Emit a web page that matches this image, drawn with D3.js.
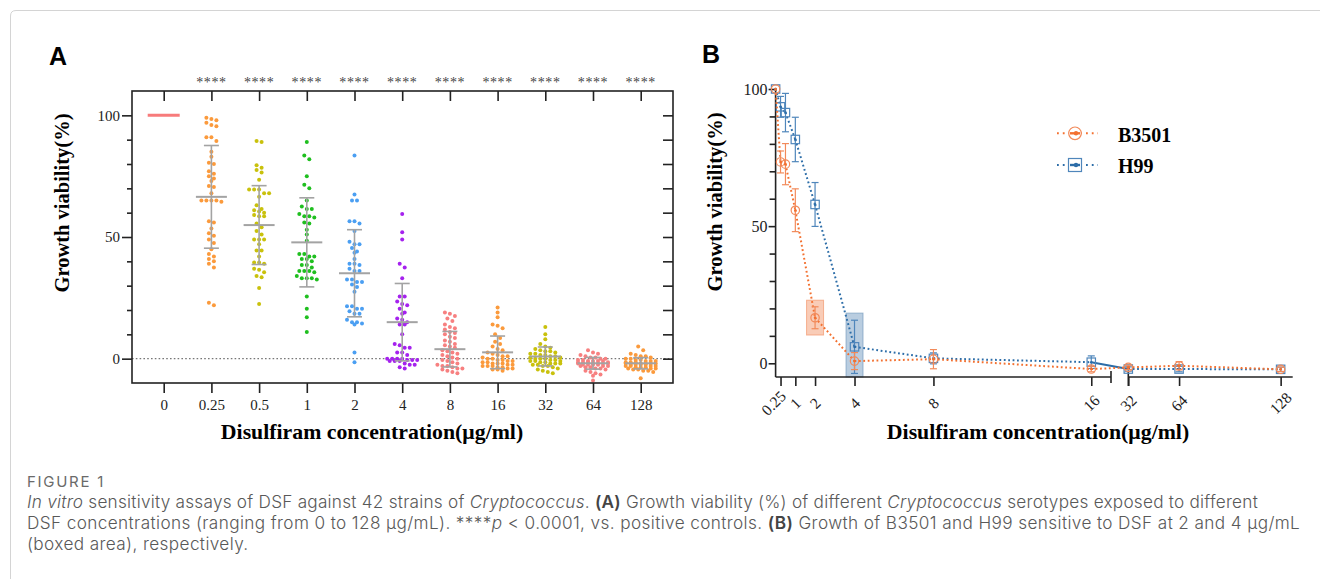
<!DOCTYPE html>
<html><head><meta charset="utf-8">
<script src="https://cdn.jsdelivr.net/npm/d3@7"></script>
<style>body{margin:0;background:#fff}svg{display:block}</style>
</head><body><svg id="chart" width="1320" height="579"></svg>
<script>
// ---------------- Panel A data ----------------
const catsA = ["0","0.25","0.5","1","2","4","8","16","32","64","128"];
const sigA  = ["","****","****","****","****","****","****","****","****","****","****"];
const colorsA = ["#f77b7b","#fb9a3c","#c9c10c","#1fbf1f","#4b9ff2","#a522ee","#f78080","#fb9a3c","#c9c10c","#f78080","#fb9a3c"];
const meansA = [100, 66.5, 54.9, 47.8, 35.1, 15.0, 3.9, 2.6, 0.9, -1.9, -1.9];
const sdsA   = [0, 21.1, 16.2, 18.3, 17.9, 15.9, 7.3, 6.7, 3.9, 2.4, 2.3];
const vals0    = [];
const vals025  = [99,98.5,98,97,96,95.5,91,91,89.5,85,83,80,80.5,77,76,75,74,73,71,70.5,68,65,65,65,65,64.5,56.5,56,53.5,51.5,50.5,49,47.5,45,43,42,41,40,39,37.5,23,22];
const vals05   = [89.5,89,79.5,78.5,77.5,76.5,73.5,69.5,69.5,69.5,68,68,66.5,63,61.5,61,60.5,60,59,58.5,58.5,55.5,54,52.5,51,49,49,49,47,44.5,44.5,42,39.5,39.5,39,37,36.5,35.5,34,33.5,29,22.5];
const vals1    = [89,83.5,82,75,71.5,70,65,62.5,61.5,61.5,59.5,58.5,58.5,58,56,55.5,53,51,48.5,43,43,42,42,41,41,40,38.5,38.5,37.5,36,36,36,35.5,34,33,33,33,32.5,25.5,20.5,17,11];
const vals2    = [83.5,67.5,65,65,56.5,56.5,55.5,52.5,48,47,47,45.5,44,43.5,41,39,39,38.5,37,36,36,32.5,32.5,31.5,31.5,30.5,29.5,27.5,21.5,21.5,20.5,20.5,19.5,18.5,18.5,16,15,15,14.5,14,2.5,-1.5];
const vals4    = [59.5,52,49,39,37.5,33,25.5,25.5,23.5,22.5,22,20.5,19,18.5,16.5,16,15,14,14,10,6,5.5,4.5,4.5,2.5,2.5,1.5,0,0,0,0,-0.5,-0.5,-0.5,-1,-1,-1,-2.5,-2.5,-2,-3.5,-4];
const vals8    = [19,18.5,17.5,16.5,15.5,14,13,12.5,12,11,10.5,10,9,8.5,7.5,7,6,5.5,5,4.5,3.5,3,2.5,2,1.5,1,0.5,0,-0.5,-1,-1.5,-2,-2.5,-3,-3,-3.5,-4,-4,-4.5,-5,-5.5,-6];
const vals16   = [21,19,17,14,13.5,12.5,10,8.5,7,6,5,4,3.5,2.5,2,1.5,1,1,0.5,0,0,-0.5,-0.5,-1,-1,-1.5,-1.5,-2,-2,-2,-2.5,-2.5,-3,-3,-3,-3.5,-3.5,-4,-4,-4.5,-4.5,-5];
const vals32   = [13,10,8,6,5,4.5,4,3.5,3,3,2.5,2,2,1.5,1.5,1,1,0.5,0.5,0,0,0,-0.5,-0.5,-1,-1,-1,-1.5,-1.5,-2,-2,-2,-2.5,-2.5,-3,-3,-3.5,-4,-4.5,-5,-5.5,-6];
const vals64   = [3.5,2.5,2,1.5,1,0.5,0.5,0,0,-0.5,-0.5,-1,-1,-1,-1,-1.5,-1.5,-1.5,-1.5,-2,-2,-2,-2,-2,-2.5,-2.5,-2.5,-2.5,-3,-3,-3,-3.5,-3.5,-4,-4,-4.5,-5,-5.5,-6,-6.5,-7,-9];
const vals128  = [5,3.5,2,1.5,1,1,0.5,0,0,-0.5,-0.5,-1,-1,-1,-1.5,-1.5,-1.5,-2,-2,-2,-2,-2,-2.5,-2.5,-2.5,-2.5,-3,-3,-3,-3,-3.5,-3.5,-3.5,-4,-4,-4,-4.5,-4.5,-5,-5,-5.5,-8];
const valsA = [vals0,vals025,vals05,vals1,vals2,vals4,vals8,vals16,vals32,vals64,vals128];
const yTicksA = [0,50,100];
const yMinorA = [10,20,30,40,60,70,80,90];

// ---------------- Panel B data ----------------
const concB = [0,0.25,0.5,1,2,4,8,16,32,64,128];
const b3501 = [100,73.4,72.6,55.8,16.6,0.8,1.5,-2.1,-1.5,-0.9,-2.2];
const b3501Err = [0,4,7.5,7.8,4,3.1,3.5,1,0.8,1.5,0.8];
const h99 = [100,93.5,91.4,81.6,57.9,6.0,1.8,0.4,-2.1,-2.1,-2.2];
const h99Err = [0,3.8,7,8.1,8,9.7,2,2.3,0.8,1,0.8];
const xTicksB1 = [0.25,1,2,4,8,16];
const xTicksB2 = [32,64,128];
const yTicksB = [0,50,100];
const yMinorB = [10,20,30,40,60,70,80,90];
const boxesB = [{conc:2, lo:10.3, hi:23, fill:"#f4a27c", stroke:"#f08a5c"},
                {conc:4, lo:-5, hi:18.3, fill:"#7fa4c6", stroke:"#6b93b8"}];

const svg = d3.select("#chart");
svg.append("rect").attr("width",1320).attr("height",579).attr("fill","#fff");
svg.append("path").attr("d","M10.5,579 L10.5,16 Q10.5,10.5 16,10.5 L1320,10.5")
   .attr("fill","none").attr("stroke","#d4d4d4").attr("stroke-width",1);

const serif = "'Liberation Serif','Times New Roman',serif";
const sans = "'Liberation Sans',Arial,sans-serif";

// ================= Panel A =================
const L=132, R=673, T=91, B=383;
const xA = d3.scalePoint().domain(catsA).range([163.7,640.7]);
const yA = d3.scaleLinear().domain([-10,110]).range([B,T]);
const gA = svg.append("g");

gA.append("text").attr("x",49).attr("y",65).text("A")
  .attr("font-family",sans).attr("font-weight","bold").attr("font-size",25);

gA.append("line").attr("x1",L).attr("x2",R).attr("y1",yA(0)).attr("y2",yA(0))
  .attr("stroke","#777").attr("stroke-width",1.3).attr("stroke-dasharray","1.6,2.2");

function swarm(vals, cx, sc, step, sep, maxRow){
  const pts = vals.map(v=>({v, py:sc(v)})).sort((a,b)=>a.py-b.py);
  const rows=[]; let cur=null;
  pts.forEach(p=>{ if(!cur || p.py-cur.y0>sep || cur.pts.length>=maxRow){cur={y0:p.py,pts:[]};rows.push(cur);} cur.pts.push(p);});
  rows.forEach(r=>{const n=r.pts.length; r.pts.forEach((p,i)=>{p.px=cx+(i-(n-1)/2)*step;});});
  return pts;
}
catsA.forEach((c,i)=>{
  const pts = swarm(valsA[i], xA(c), yA, 5, 4.2, 7);
  gA.append("g").selectAll("circle").data(pts).join("circle")
    .attr("cx",d=>d.px).attr("cy",d=>d.py).attr("r",2).attr("fill",colorsA[i]);
});
const eb = gA.append("g").attr("stroke","#a3a3a3").attr("fill","none");
catsA.forEach((c,i)=>{
  const cx=xA(c), m=meansA[i], s=sdsA[i];
  if(s>0){
    eb.append("line").attr("x1",cx).attr("x2",cx).attr("y1",yA(m-s)).attr("y2",yA(m+s)).attr("stroke-width",1.6);
    [m-s,m+s].forEach(v=>eb.append("line").attr("x1",cx-7.5).attr("x2",cx+7.5).attr("y1",yA(v)).attr("y2",yA(v)).attr("stroke-width",1.6));
    eb.append("line").attr("x1",cx-15.5).attr("x2",cx+15.5).attr("y1",yA(m)).attr("y2",yA(m)).attr("stroke-width",2);
  } else {
    gA.append("line").attr("x1",cx-16).attr("x2",cx+16).attr("y1",yA(m)).attr("y2",yA(m))
      .attr("stroke",colorsA[i]).attr("stroke-width",3);
  }
});

gA.append("rect").attr("x",L).attr("y",T).attr("width",R-L).attr("height",B-T)
  .attr("fill","none").attr("stroke","#222").attr("stroke-width",1.6);

function styleAxis(g, fs){
  g.select(".domain").remove();
  g.selectAll(".tick line").attr("stroke","#222").attr("stroke-width",1.6);
  g.selectAll(".tick text").attr("font-family",serif).attr("font-size",fs).attr("fill","#222");
}
gA.append("g").attr("transform",`translate(${L},0)`)
  .call(d3.axisLeft(yA).tickValues(yTicksA).tickSize(10).tickPadding(2)).call(g=>styleAxis(g,15));
gA.append("g").attr("transform",`translate(${L},0)`)
  .call(d3.axisLeft(yA).tickValues(yMinorA).tickSize(5).tickFormat("")).call(g=>styleAxis(g,15));
gA.append("g").attr("transform",`translate(${R},0)`)
  .call(d3.axisLeft(yA).tickValues(yTicksA.concat(yMinorA)).tickSize(10).tickFormat("")).call(g=>styleAxis(g,15));
gA.append("g").attr("transform",`translate(0,${T})`)
  .call(d3.axisBottom(xA).tickSize(10).tickFormat("")).call(g=>styleAxis(g,15));
gA.append("g").attr("transform",`translate(0,${B})`)
  .call(d3.axisBottom(xA).tickSize(10).tickPadding(6)).call(g=>styleAxis(g,15));
gA.append("g").selectAll("text").data(catsA).join("text")
  .attr("x",d=>xA(d)).attr("y",T-4).attr("text-anchor","middle")
  .text((d,i)=>sigA[i]).attr("font-family",serif).attr("font-size",14).attr("fill","#444").attr("letter-spacing",0.6);
gA.append("text").attr("transform","translate(69,203) rotate(-90)").attr("text-anchor","middle")
  .text("Growth viability(%)").attr("font-family",serif).attr("font-weight","bold").attr("font-size",20.5);
gA.append("text").attr("x",372).attr("y",439).attr("text-anchor","middle")
  .text("Disulfiram concentration(μg/ml)").attr("font-family",serif).attr("font-weight","bold").attr("font-size",21.8);

// ================= Panel B =================
const gB = svg.append("g");
gB.append("text").attr("x",702).attr("y",63).text("B")
  .attr("font-family",sans).attr("font-weight","bold").attr("font-size",25);
const xB1 = d3.scaleLinear().domain([0,17]).range([775.6,1111]);
const xB2 = d3.scaleLinear().domain([32,135.6]).range([1128.3,1292.7]);
const xB = v => v<=17 ? xB1(v) : xB2(v);
const yB = d3.scaleLinear().domain([-5,100]).range([377,89]);
const orange="#f3702f", blue="#2c6da8", orangeM="#f28a5a", blueM="#4f86bb";

boxesB.forEach(b=>{
  gB.append("rect").attr("x",xB(b.conc)-8.5).attr("width",17)
    .attr("y",yB(b.hi)).attr("height",yB(b.lo)-yB(b.hi))
    .attr("fill",b.fill).attr("fill-opacity",0.55).attr("stroke",b.stroke).attr("stroke-opacity",0.6);
});

const axB = gB.append("g").attr("stroke","#222").attr("stroke-width",1.6);
axB.append("line").attr("x1",xB1.range()[0]).attr("x2",xB1.range()[0]).attr("y1",yB(100)).attr("y2",yB(-5));
axB.append("line").attr("x1",xB1.range()[0]).attr("x2",xB1.range()[1]).attr("y1",yB(-5)).attr("y2",yB(-5));
axB.append("line").attr("x1",xB2.range()[0]).attr("x2",xB2.range()[1]).attr("y1",yB(-5)).attr("y2",yB(-5));
axB.append("line").attr("x1",xB1.range()[1]).attr("x2",xB1.range()[1]).attr("y1",yB(-5)-6).attr("y2",yB(-5)+6);
axB.append("line").attr("x1",xB2.range()[0]).attr("x2",xB2.range()[0]).attr("y1",yB(-5)-6).attr("y2",yB(-5)+9);

gB.append("g").attr("transform",`translate(${xB1.range()[0]},0)`)
  .call(d3.axisLeft(yB).tickValues(yTicksB).tickSize(7).tickPadding(1)).call(g=>styleAxis(g,16));
gB.append("g").attr("transform",`translate(${xB1.range()[0]},0)`)
  .call(d3.axisLeft(yB).tickValues(yMinorB).tickSize(6).tickFormat("")).call(g=>styleAxis(g,16));
gB.append("g").attr("transform",`translate(0,${yB(-5)})`)
  .call(d3.axisBottom(xB1).tickValues(xTicksB1).tickSize(9).tickFormat("")).call(g=>styleAxis(g,16));
gB.append("g").attr("transform",`translate(0,${yB(-5)})`)
  .call(d3.axisBottom(xB2).tickValues(xTicksB2).tickSize(9).tickFormat("")).call(g=>styleAxis(g,16));
const xLabB = xTicksB1.map(v=>({v,x:xB1(v)})).concat(xTicksB2.map(v=>({v,x:xB2(v)})));
gB.append("g").selectAll("text").data(xLabB).join("text")
  .attr("transform",d=>`translate(${d.x + (d.v===0.25?-7:0)},403) rotate(-45)`)
  .attr("text-anchor","middle").attr("dominant-baseline","central")
  .text(d=>d.v).attr("font-family",serif).attr("font-size",15.5).attr("fill","#222");

function drawSeries(vals, errs, col, colM, shape, solidBreak){
  const pts = concB.map((c,i)=>({x:xB(c), y:yB(vals[i]), v:vals[i], e:errs[i], c}));
  const line = d3.line().x(d=>d.x).y(d=>d.y);
  for(let i=0;i<pts.length-1;i++){
    const solid = solidBreak && pts[i].c===16;
    gB.append("path").attr("d",line([pts[i],pts[i+1]])).attr("fill","none")
      .attr("stroke",col).attr("stroke-width",2).attr("stroke-dasharray",solid?null:"1.8,2.6");
  }
  const g = gB.append("g").attr("stroke",colM).attr("fill","none").attr("stroke-width",1.2);
  pts.forEach(p=>{
    if(p.e>0){
      g.append("line").attr("x1",p.x).attr("x2",p.x).attr("y1",yB(p.v-p.e)).attr("y2",yB(p.v+p.e));
      [p.v-p.e,p.v+p.e].forEach(v=>g.append("line").attr("x1",p.x-3.5).attr("x2",p.x+3.5).attr("y1",yB(v)).attr("y2",yB(v)));
    }
    if(shape==="circle") g.append("circle").attr("cx",p.x).attr("cy",p.y).attr("r",4.2);
    else g.append("rect").attr("x",p.x-4.2).attr("y",p.y-4.2).attr("width",8.4).attr("height",8.4);
    gB.append("circle").attr("cx",p.x).attr("cy",p.y).attr("r",1.3).attr("fill",col);
  });
}
drawSeries(h99, h99Err, blue, blueM, "square", true);
drawSeries(b3501, b3501Err, orange, orangeM, "circle", false);

const legend = [{name:"B3501",col:orange,colM:orangeM,shape:"circle"},{name:"H99",col:blue,colM:blueM,shape:"square"}];
legend.forEach((d,i)=>{
  const y = 133.3 + i*31.7;
  gB.append("line").attr("x1",1057).attr("x2",1098).attr("y1",y).attr("y2",y)
    .attr("stroke",d.col).attr("stroke-width",2).attr("stroke-dasharray","1.8,4");
  if(d.shape==="circle") gB.append("circle").attr("cx",1075).attr("cy",y).attr("r",6.3).attr("fill","#fff").attr("stroke",d.colM).attr("stroke-width",1.2);
  else gB.append("rect").attr("x",1068.5).attr("y",y-6.5).attr("width",13).attr("height",13).attr("fill","#fff").attr("stroke",d.colM).attr("stroke-width",1.2);
  gB.append("line").attr("x1",1070).attr("x2",1080).attr("y1",y).attr("y2",y).attr("stroke",d.col).attr("stroke-width",2.4);
  gB.append("circle").attr("cx",1076).attr("cy",y).attr("r",2.2).attr("fill",d.col);
  gB.append("text").attr("x",1118).attr("y",y+8.4).text(d.name)
    .attr("font-family",serif).attr("font-weight","bold").attr("font-size",20);
});

gB.append("text").attr("transform","translate(722,202) rotate(-90)").attr("text-anchor","middle")
  .text("Growth viability(%)").attr("font-family",serif).attr("font-weight","bold").attr("font-size",20.5);
gB.append("text").attr("x",1038).attr("y",439).attr("text-anchor","middle")
  .text("Disulfiram concentration(μg/ml)").attr("font-family",serif).attr("font-weight","bold").attr("font-size",21.8);

// ================= Caption =================
const capFont = "Inter,'Open Sans',sans-serif";
const cap = svg.append("g").attr("font-family",capFont).attr("fill","#595959").attr("font-weight",300);
function fitText(t, w, maxFs){
  const l=t.node().getComputedTextLength();
  const fs=Math.min(maxFs, +t.attr("font-size")*w/l);
  t.attr("font-size",fs);
  const l2=t.node().getComputedTextLength();
  const ls=Math.max(0,(w-l2)/t.text().length);
  t.attr("letter-spacing",ls);
  return {fs,ls};
}
const fig = cap.append("text").attr("x",27).attr("y",487).attr("font-size",14).attr("fill","#6a6a6a").attr("font-weight",400).text("FIGURE 1");
fitText(fig,78,15);
const lines = [
  [["In vitro","i"],[" sensitivity assays of DSF against 42 strains of ",""],["Cryptococcus","i"],[". ",""],["(A)","b"],[" Growth viability (%) of different ",""],["Cryptococcus","i"],[" serotypes exposed to different",""]],
  [["DSF concentrations (ranging from 0 to 128 μg/mL). ****",""],["p","i"],[" < 0.0001, vs. positive controls. ",""],["(B)","b"],[" Growth of B3501 and H99 sensitive to DSF at 2 and 4 μg/mL",""]],
  [["(boxed area), respectively.",""]]
];
const base=[508,529,550], targets=[1231,1273,null];
let last={fs:15,ls:0};
lines.forEach((segs,k)=>{
  const t = cap.append("text").attr("x",27).attr("y",base[k]).attr("font-size",15);
  segs.forEach(([s,st])=>{
    const ts=t.append("tspan").text(s);
    if(st==="i") ts.attr("font-style","italic");
    if(st==="b") ts.attr("font-weight","600").attr("fill","#444");
  });
  if(targets[k]) last = fitText(t,targets[k],17.2);
  else t.attr("font-size",last.fs).attr("letter-spacing",last.ls);
});
</script></body></html>
